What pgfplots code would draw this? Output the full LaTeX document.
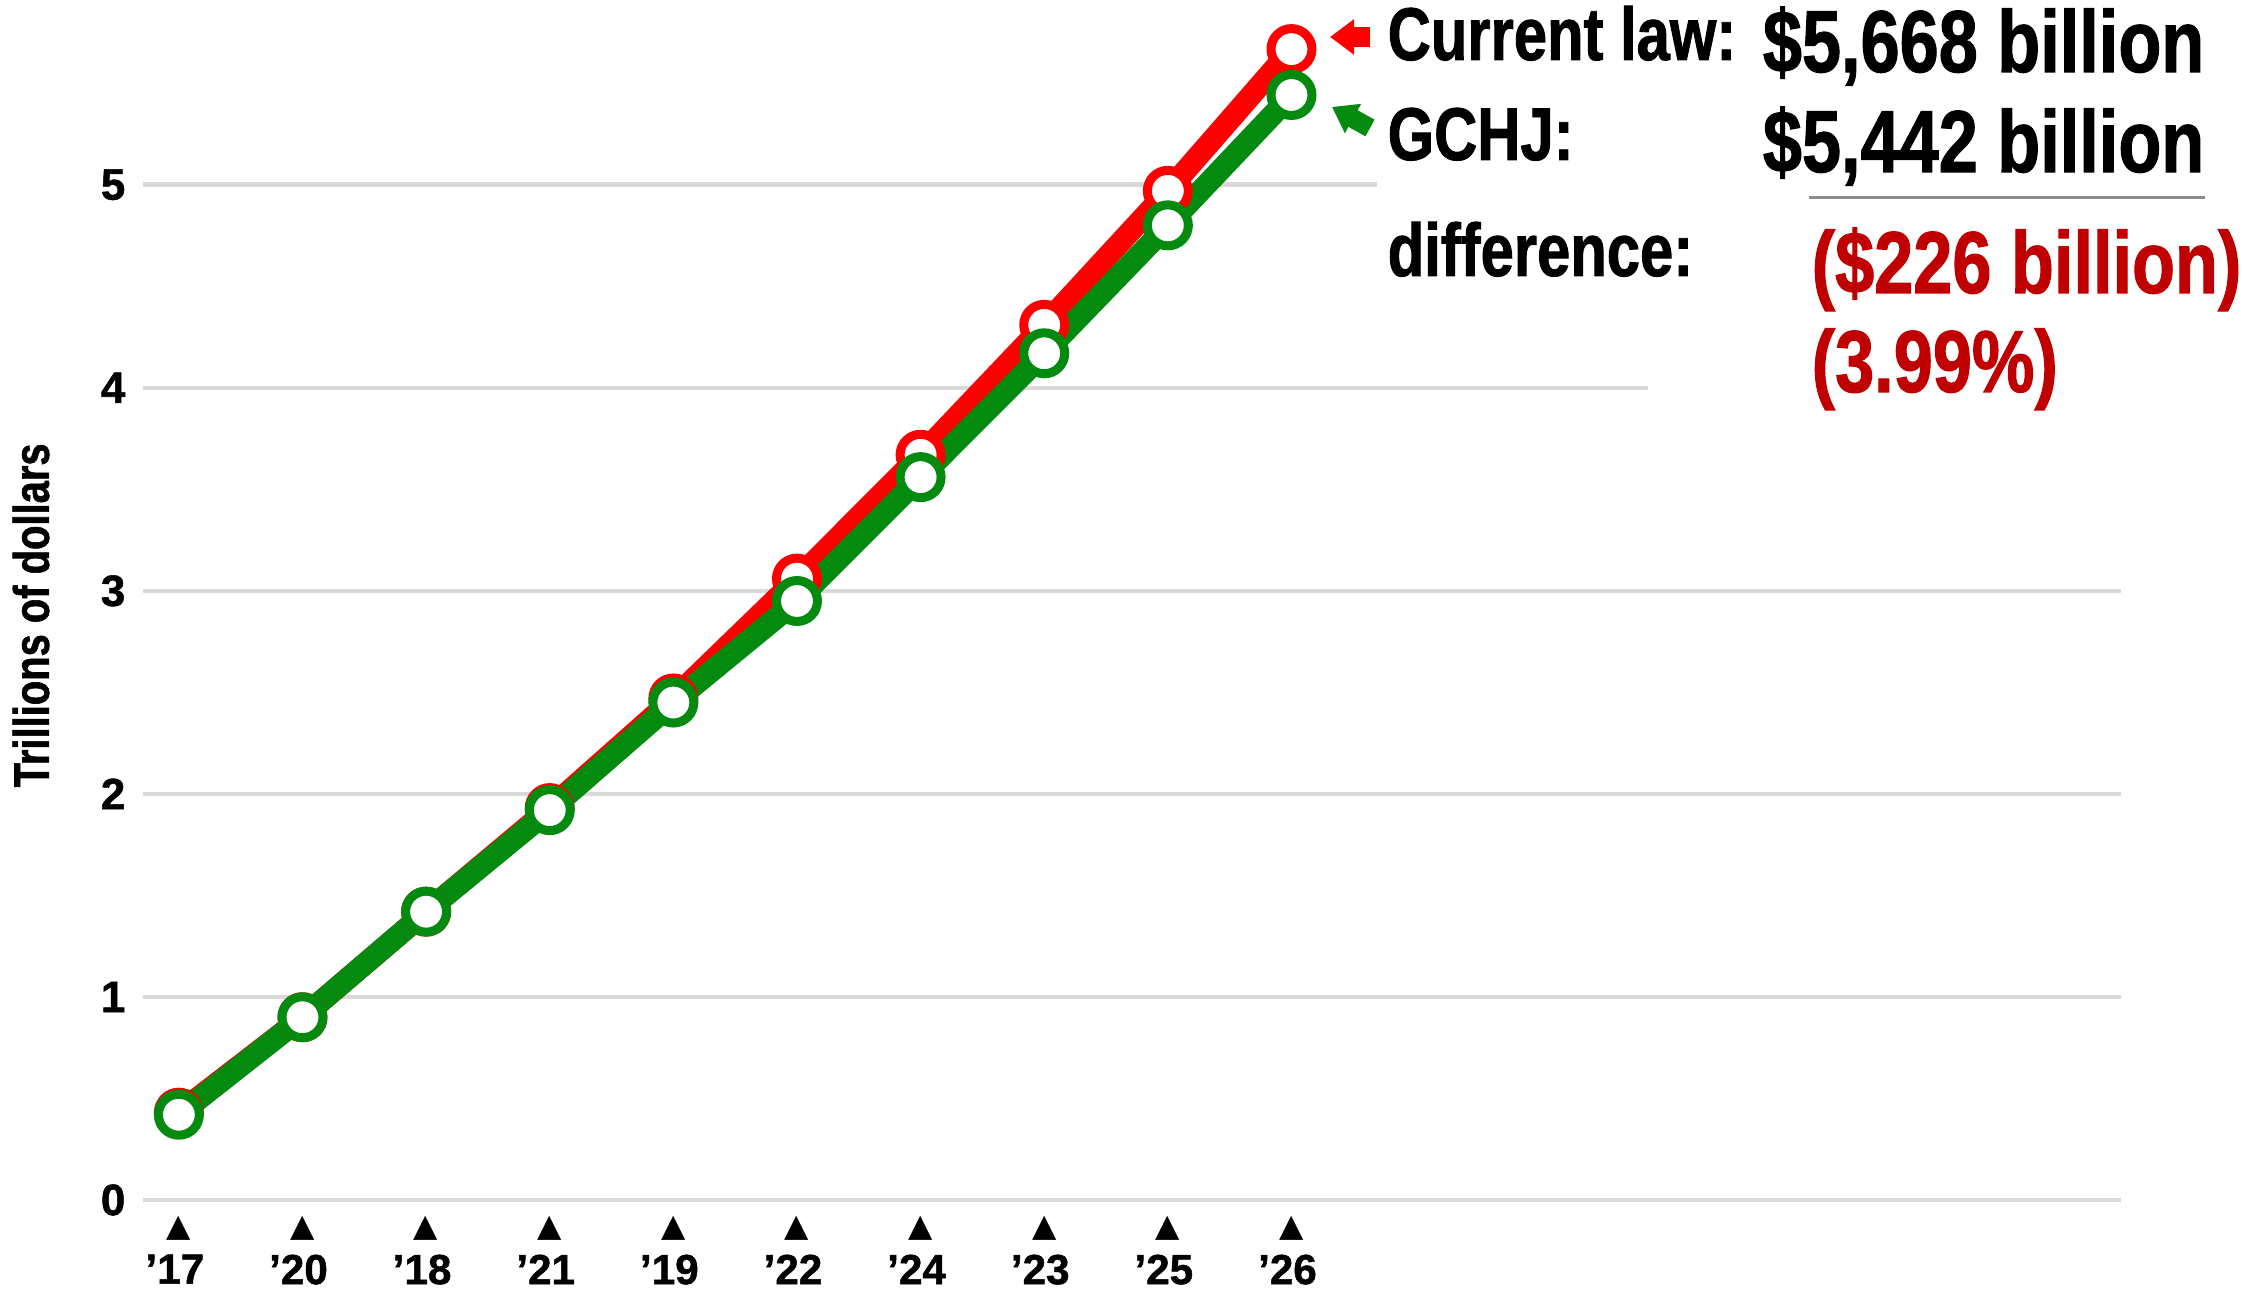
\documentclass[border=0pt]{standalone}
\usepackage{pgfplots}
\pgfplotsset{compat=1.18}
\usepackage{fontspec}
\setmainfont{Liberation Sans}[FakeStretch=0.8, BoldFeatures={FakeBold=1.2}]
\newfontfamily\widefont{Liberation Sans}[BoldFeatures={FakeBold=1.2}]
\newfontfamily\symfont{DejaVu Sans}
\usetikzlibrary{arrows.meta}

\definecolor{lawred}{HTML}{FF0000}
\definecolor{gchjgreen}{HTML}{058A10}
\definecolor{diffred}{HTML}{C00000}
\definecolor{gridgray}{HTML}{D9D9D9}
\definecolor{rulegray}{HTML}{8C8C8C}

\begin{document}
\begin{tikzpicture}
% fix the page to the reference size (1 px = 0.1 mm)
\begin{scope}[x=0.1mm, y=-0.1mm, shift={(-143,-1200)}]
  \useasboundingbox (0,0) rectangle (2242,1290);
\end{scope}

\begin{axis}[
    at={(0,0)}, anchor=south west,
    scale only axis,
    width=197.8mm, height=119.8mm,
    xmin=-0.29, xmax=15.71,
    ymin=0, ymax=5.9,
    clip=false,
    axis line style={draw=none},
    major tick length=0pt,
    xtick={0,...,9},
    xticklabels={’17,’20,’18,’21,’19,’22,’24,’23,’25,’26},
    xticklabel style={font=\widefont\bfseries\fontsize{12}{13}\selectfont, anchor=north, inner sep=0pt, xshift=-0.4mm},
    xticklabel shift=5.4mm,
    extra x ticks={0,...,9},
    extra x tick labels={▲,▲,▲,▲,▲,▲,▲,▲,▲,▲},
    extra x tick style={xticklabel style={font=\symfont\fontsize{9}{9}\selectfont, xshift=0.4mm}, xticklabel shift=1.5mm},
    ytick={0,...,5},
    yticklabel style={font=\widefont\bfseries\fontsize{12.5}{13}\selectfont, inner sep=0pt},
    yticklabel shift=1.7mm,
    /pgf/number format/assume math mode=true,
    ylabel={Trillions of dollars},
    ylabel style={font=\bfseries\fontsize{14.2}{15}\selectfont,
                  at={(axis description cs:-0.0566,0.488)}, anchor=center},
]

% grid lines (the top two stop short of the notes)
\draw[gridgray, line width=0.45mm] (axis cs:-0.29,0) -- (axis cs:15.71,0);
\draw[gridgray, line width=0.45mm] (axis cs:-0.29,1) -- (axis cs:15.71,1);
\draw[gridgray, line width=0.45mm] (axis cs:-0.29,2) -- (axis cs:15.71,2);
\draw[gridgray, line width=0.45mm] (axis cs:-0.29,3) -- (axis cs:15.71,3);
\draw[gridgray, line width=0.45mm] (axis cs:-0.29,4) -- (axis cs:11.88,4);
\draw[gridgray, line width=0.45mm] (axis cs:-0.29,5) -- (axis cs:9.69,5);

% current law
\addplot[lawred, line width=2.2mm, line join=round,
         mark=*, mark size=2.05mm,
         mark options={fill=white, draw=lawred, line width=0.9mm}]
    coordinates {
        (0,0.43) (1,0.90) (2,1.42) (3,1.93) (4,2.47)
        (5,3.06) (6,3.67) (7,4.31) (8,4.97) (9,5.668)
    };

% GCHJ
\addplot[gchjgreen, line width=2.2mm, line join=round,
         mark=*, mark size=2.05mm,
         mark options={fill=white, draw=gchjgreen, line width=0.9mm}]
    coordinates {
        (0,0.42) (1,0.90) (2,1.42) (3,1.92) (4,2.45)
        (5,2.95) (6,3.56) (7,4.17) (8,4.80) (9,5.442)
    };

\end{axis}

% notes, in reference pixel coordinates
\begin{scope}[x=0.1mm, y=-0.1mm, shift={(-143,-1200)}]
  \draw[lawred, line width=2mm, -{Triangle[width=3.4mm, length=2.4mm]}] (1370,37) -- (1330,37);
  \draw[gchjgreen, line width=1.9mm, -{Triangle[width=3.2mm, length=2.4mm]}] (1370,128) -- (1332,107);

  \node[anchor=base west, inner sep=0pt, font=\bfseries\fontsize{21.25}{22}\selectfont] at (1387,60) {Current law:};
  \node[anchor=base west, inner sep=0pt, font=\bfseries\fontsize{21.25}{22}\selectfont] at (1387,160) {GCHJ:};
  \node[anchor=base west, inner sep=0pt, font=\bfseries\fontsize{21.25}{22}\selectfont] at (1387,276) {difference:};

  \node[anchor=base east, inner sep=0pt, font=\bfseries\fontsize{25}{26}\selectfont] at (2205,72) {\$5,668 billion};
  \node[anchor=base east, inner sep=0pt, font=\bfseries\fontsize{25}{26}\selectfont] at (2205,172) {\$5,442 billion};
  \draw[rulegray, line width=0.3mm] (1809,198) -- (2205,198);

  \node[anchor=base west, inner sep=0pt, text=diffred, font=\bfseries\fontsize{25}{26}\selectfont] at (1811,293) {(\$226 billion)};
  \node[anchor=base west, inner sep=0pt, text=diffred, font=\bfseries\fontsize{25}{26}\selectfont] at (1811,392) {(3.99\%)};
\end{scope}
\end{tikzpicture}
\end{document}
